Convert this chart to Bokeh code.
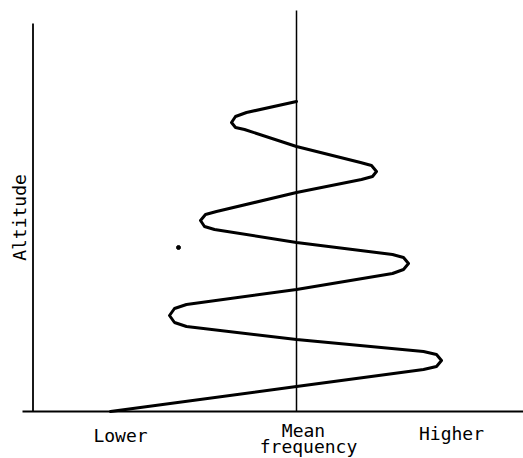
from bokeh.plotting import figure
from bokeh.models import Range1d, ColumnDataSource
from bokeh.core.properties import value
from bokeh.embed import file_html
from bokeh.resources import INLINE

# Frequency relative to the mean (0 = mean frequency), altitude in arbitrary units
curve_freq = [-1.86, 0.00,
              1.27, 1.40, 1.45, 1.40, 1.27, 0.00,
              -1.10, -1.22, -1.27, -1.22, -1.10, 0.00,
              0.96, 1.07, 1.12, 1.07, 0.96, 0.00,
              -0.82, -0.92, -0.96, -0.91, -0.80, 0.00,
              0.65, 0.76, 0.80, 0.75, 0.64, 0.00,
              -0.52, -0.61, -0.65, -0.61, -0.50, 0.00]
curve_alt = [0.00, 0.25,
             0.42, 0.45, 0.51, 0.57, 0.60, 0.72,
             0.85, 0.89, 0.96, 1.03, 1.07, 1.22,
             1.38, 1.42, 1.48, 1.54, 1.57, 1.69,
             1.82, 1.85, 1.91, 1.97, 2.00, 2.19,
             2.32, 2.35, 2.40, 2.46, 2.49, 2.65,
             2.82, 2.84, 2.89, 2.95, 2.99, 3.10]

mean_freq = 0.0
axis_freq = -2.635          # left (altitude) axis position
axis_top = 3.88
mean_top = 4.01
base_left, base_right = -2.74, 2.30

dot_freq = [-1.18]
dot_alt = [1.64]

tick_labels = ["Lower", "Mean", "frequency", "Higher"]
tick_x = [-1.76, 0.07, 0.12, 1.55]
tick_y = [-0.235, -0.19, -0.345, -0.215]

p = figure(width=523, height=458, output_backend="svg", toolbar_location=None,
           x_range=Range1d(-2.96, 2.27), y_range=Range1d(-0.47, 4.11),
           min_border=0, outline_line_color=None)
p.xaxis.visible = False
p.yaxis.visible = False
p.xgrid.visible = False
p.ygrid.visible = False
p.background_fill_color = "white"

# baseline
p.segment(x0=[base_left], y0=[0], x1=[base_right], y1=[0], line_color="black", line_width=1.8)
# altitude axis
p.segment(x0=[axis_freq], y0=[0], x1=[axis_freq], y1=[axis_top], line_color="black", line_width=1.8)
# mean frequency line
p.segment(x0=[mean_freq], y0=[0], x1=[mean_freq], y1=[mean_top], line_color="black", line_width=1.5)

# wave
p.line(curve_freq, curve_alt, line_color="black", line_width=3,
       line_join="round", line_cap="round")

# stray dot
p.scatter(dot_freq, dot_alt, size=4, color="black")

src = ColumnDataSource(dict(x=tick_x, y=tick_y, t=tick_labels))
p.text(x="x", y="y", text="t", source=src, text_font=value("DejaVu Sans Mono"),
       text_font_size="18px", text_align="center", text_baseline="alphabetic",
       text_color="black")

p.text(x=[-2.77], y=[1.94], text=["Altitude"], angle=1.5708,
       text_font=value("DejaVu Sans Mono"), text_font_size="18px",
       text_align="center", text_baseline="middle", text_color="black")

open("out.html", "w").write(file_html(p, INLINE))
